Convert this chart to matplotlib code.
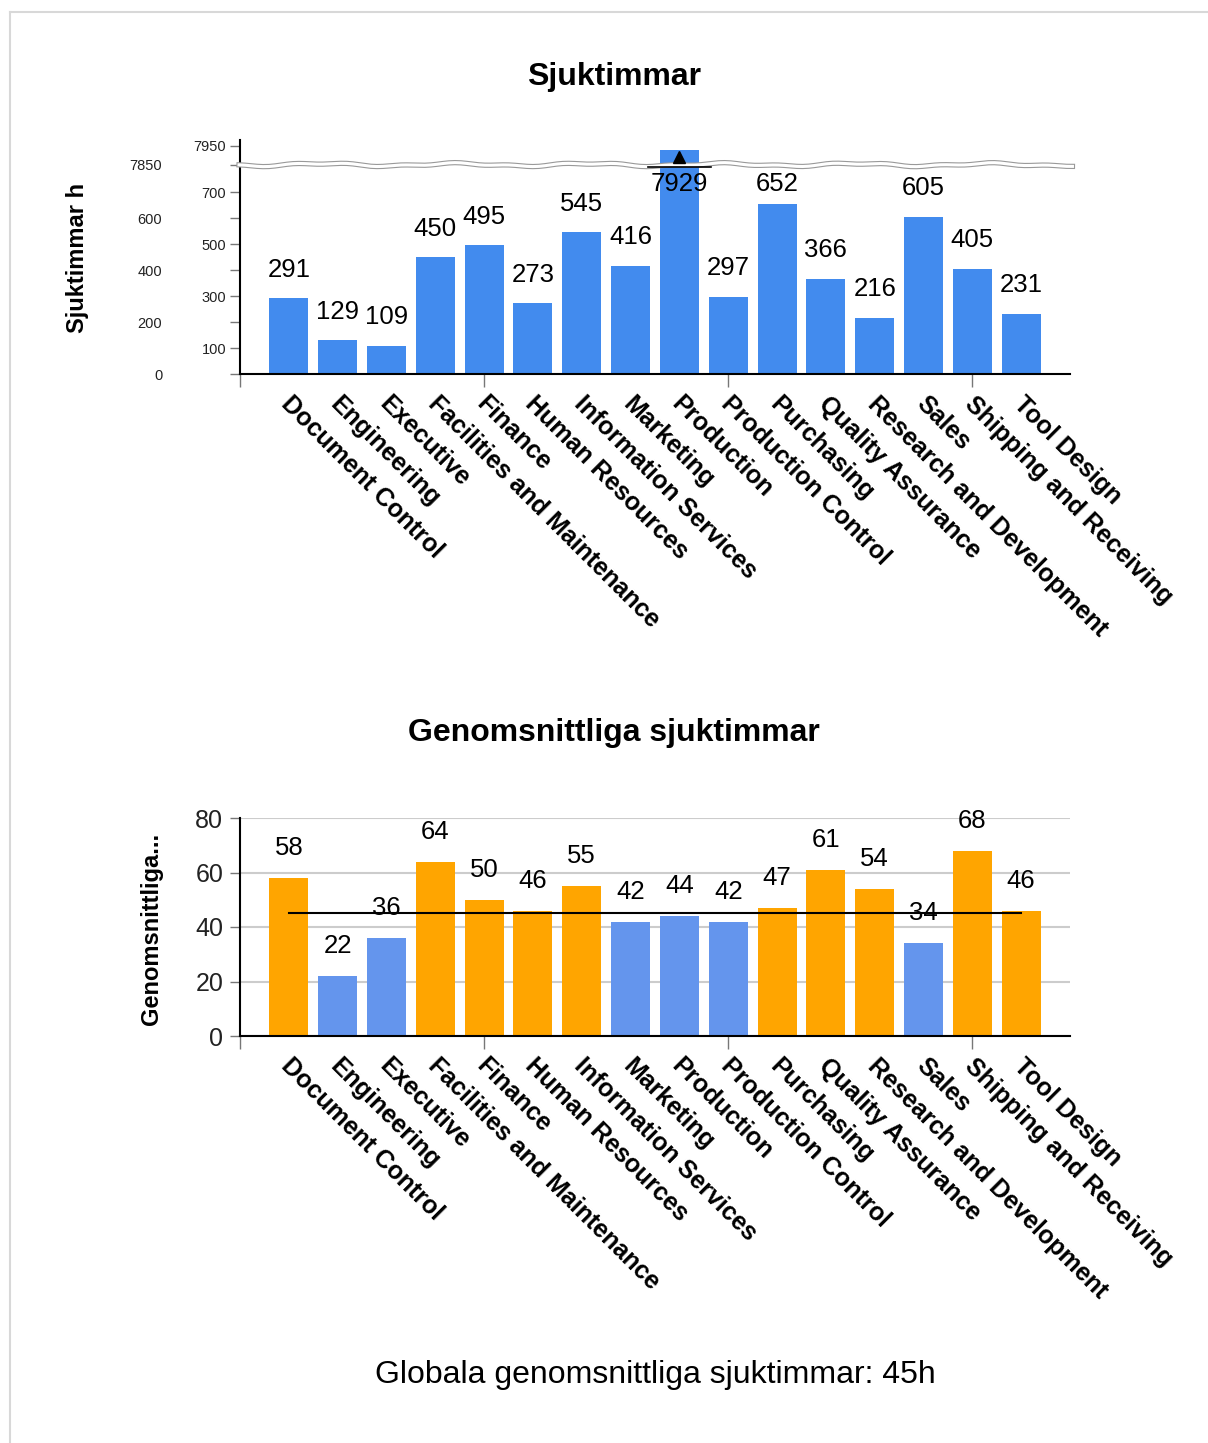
import matplotlib
matplotlib.use("Agg")
import matplotlib.pyplot as plt
import matplotlib.patheffects as pe
import numpy as np

plt.rcParams['font.family'] = ['Liberation Sans', 'DejaVu Sans']

departments = ["Document Control", "Engineering", "Executive",
               "Facilities and Maintenance", "Finance", "Human Resources",
               "Information Services", "Marketing", "Production",
               "Production Control", "Purchasing", "Quality Assurance",
               "Research and Development", "Sales", "Shipping and Receiving",
               "Tool Design"]
sick_hours = [291, 129, 109, 450, 495, 273, 545, 416, 7929, 297, 652, 366,
              216, 605, 405, 231]
avg_hours = [58, 22, 36, 64, 50, 46, 55, 42, 44, 42, 47, 61, 54, 34, 68, 46]
global_avg = 45

lower_ticks = [0, 100, 200, 300, 400, 500, 600, 700]
upper_ticks = [7850, 7950]
avg_ticks = [0, 20, 40, 60, 80]

# broken axis: values above the break are squeezed into the top strip
BREAK_DISP = 805
UPPER_LO = 7850
UPPER_K = 0.72


def to_disp(v):
    if v < 5000:
        return v
    return BREAK_DISP + (v - UPPER_LO) * UPPER_K


W, H = 1208, 1443
fig = plt.figure(figsize=(W / 100, H / 100), dpi=100)

# light page border
fig.add_artist(plt.Line2D([10 / W, 10 / W], [0, 1 - 12 / H], color='#d8d8d8', lw=1.5))
fig.add_artist(plt.Line2D([10 / W, 1], [1 - 12 / H, 1 - 12 / H], color='#d8d8d8', lw=1.5))

x = np.arange(len(departments))
minor_x = [-1, 4, 9, 14]


def style_axes(ax):
    for s in ['top', 'right']:
        ax.spines[s].set_visible(False)
    for s in ['left', 'bottom']:
        ax.spines[s].set_linewidth(1.5)
        ax.spines[s].set_color('black')
    ax.set_xlim(-1, 16)
    # labels sit a touch right of the bar centre (ticks themselves are hidden)
    ax.set_xticks(x + 0.1)
    ax.set_xticklabels(departments, rotation=-45, ha='left', va='top',
                       rotation_mode='anchor', fontsize=18, fontweight='bold')
    ax.tick_params(axis='x', which='major', length=0, pad=13)
    ax.set_xticks(minor_x, minor=True)
    ax.tick_params(axis='x', which='minor', length=9, width=1, color='#777777')


# ---------- top chart ----------
ax1 = fig.add_axes([240 / W, 1 - 374 / H, 830 / W, 234 / H])
style_axes(ax1)
disp = [to_disp(v) for v in sick_hours]
ax1.bar(x, disp, width=0.8, color='#428BEE', zorder=2)
ax1.set_ylim(0, 900)

all_ticks = lower_ticks + upper_ticks
right_col = all_ticks[1::2]
left_col = all_ticks[0::2]
ax1.set_yticks([to_disp(v) for v in right_col])
ax1.set_yticklabels([str(v) for v in right_col], fontsize=10.5, color='#222222')
ax1.set_yticks([to_disp(v) for v in left_col], minor=True)
ax1.set_yticklabels([str(v) for v in left_col], minor=True, fontsize=10.5, color='#222222')
ax1.tick_params(axis='y', which='major', length=7, width=1, color='#777777', pad=3)
ax1.tick_params(axis='y', which='minor', length=7, width=1, color='#777777', pad=49)

for i, v in enumerate(sick_hours):
    base = min(to_disp(v), 620)
    ax1.annotate(str(v), (i, base), xytext=(0, 20.5), textcoords='offset points',
                 ha='center', va='center', fontsize=18.5, zorder=6)

# break marker
bx = np.linspace(-1.02, 16.05, 140)
by = BREAK_DISP + 5 * np.sin(2.3 * bx) + 3 * np.sin(5.7 * bx + 1.0)
ax1.plot(bx, by, color='white', lw=2.2, clip_on=False, zorder=5,
         path_effects=[pe.Stroke(linewidth=3.8, foreground='#999999'), pe.Normal()])
for i, v in enumerate(sick_hours):
    if v > 5000:
        ax1.plot([i - 0.65, i + 0.65], [BREAK_DISP - 8, BREAK_DISP - 8], color='black', lw=1.2, zorder=6)
        ax1.plot([i], [BREAK_DISP + 30], marker='^', color='black', markersize=8, zorder=6)

# ---------- bottom chart ----------
ax2 = fig.add_axes([240 / W, 1 - 1036 / H, 830 / W, 218 / H])
style_axes(ax2)
colors = ['#FFA500' if v > global_avg else '#6495ED' for v in avg_hours]
ax2.bar(x, avg_hours, width=0.8, color=colors, zorder=2)
ax2.set_ylim(0, 80)
ax2.set_yticks(avg_ticks)
ax2.set_yticklabels([str(v) for v in avg_ticks], fontsize=18, color='#222222')
ax2.tick_params(axis='y', length=7, width=1, color='#777777', pad=5)
ax2.grid(axis='y', color='#cccccc', lw=1.5, zorder=0)
ax2.set_axisbelow(True)
ax2.plot([0, len(departments) - 1], [global_avg, global_avg], color='black', lw=1.5, zorder=4)
for i, v in enumerate(avg_hours):
    ax2.annotate(str(v), (i, v), xytext=(0, 21.6), textcoords='offset points',
                 ha='center', va='center', fontsize=18.5, zorder=6)

# ---------- texts ----------
fig.text(614 / W, 1 - 77 / H, "Sjuktimmar", ha='center', va='center',
         fontsize=23, fontweight='bold')
fig.text(614 / W, 1 - 733 / H, "Genomsnittliga sjuktimmar", ha='center', va='center',
         fontsize=23, fontweight='bold')
fig.text(77 / W, 1 - 258 / H, "Sjuktimmar h", rotation=90, ha='center', va='center',
         fontsize=17, fontweight='bold')
fig.text(152 / W, 1 - 929 / H, "Genomsnittliga...", rotation=90, ha='center', va='center',
         fontsize=17, fontweight='bold')
fig.text(655 / W, 1 - 1375 / H, f"Globala genomsnittliga sjuktimmar: {global_avg}h",
         ha='center', va='center', fontsize=23)

fig.savefig("out.png", dpi=100)
